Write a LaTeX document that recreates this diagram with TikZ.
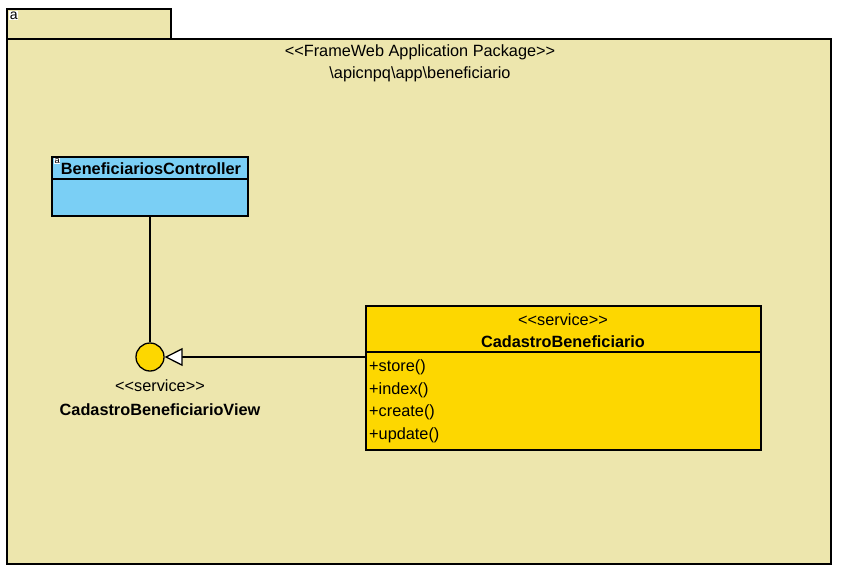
\documentclass[tikz,border=0pt]{standalone}
\usepackage{fontspec}
\setmainfont{Liberation Sans}
\usepackage{xcolor}
\usetikzlibrary{arrows.meta,positioning}
\definecolor{pkgfill}{HTML}{EDE6AD}
\definecolor{ctrlfill}{HTML}{7ACFF5}
\definecolor{svcfill}{HTML}{FDD700}
\newcommand{\stereotype}[1]{{<}{<}#1{>}{>}}
\begin{document}
\begin{tikzpicture}[x=0.03cm, y=-0.03cm,
    pkg/.style={draw, fill=pkgfill, line width=1.1pt},
    cls/.style={draw, line width=1.1pt},
    txt/.style={inner sep=0pt, font=\fontsize{13.9}{15}\selectfont},
    btxt/.style={txt, font=\fontsize{13.9}{15}\selectfont\bfseries},
    icon/.style={inner sep=0.6pt, fill=white, font=\fontsize{12}{12}\selectfont}]
    \useasboundingbox (0,0) rectangle (842,578);
    \fill [white] (0,0) rectangle (842,578);

    % package frame
    \draw [pkg] (7,9) rectangle (171,39);
    \draw [pkg] (7,39) rectangle (831,564);
    \node [icon, anchor=north west] (tabA) at (9,11) {a};
    \node [txt] (stereo) at (420,52) {\stereotype{FrameWeb Application Package}};
    \node [txt] (path) at (420,74) {\textbackslash apicnpq\textbackslash app\textbackslash beneficiario};

    % controller
    \coordinate (ctrlNW) at (52,157);
    \coordinate (ctrlSE) at (248,216);
    \draw [cls, fill=ctrlfill] (ctrlNW) rectangle (ctrlSE);
    \draw [cls] (52,179) -- (248,179);
    \node [btxt] (ctrl) at (151,169) {BeneficiariosController};
    \node [icon, anchor=north west, inner sep=0.3pt, font=\fontsize{8}{8}\selectfont] (ctrlA) at (54,158) {a};
    \coordinate (ctrlBot) at (150,216);

    % interface
    \node [circle, draw, line width=1.1pt, fill=svcfill, inner sep=0pt, minimum size=0.84cm] (view) at (150,357) {};
    \node [txt] (viewSt) at (160,386) {\stereotype{service}};
    \node [btxt] (viewName) at (160,410) {CadastroBeneficiarioView};
    \draw [line width=1.1pt] (ctrlBot) -- (view.north);

    % service class
    \draw [cls, fill=svcfill] (366,306) rectangle (761,450);
    \draw [cls] (366,352) -- (761,352);
    \node [txt] (svcSt) at (563,320) {\stereotype{service}};
    \node [btxt] (svc) at (563,342) {CadastroBeneficiario};
    \node [txt, anchor=west] (mStore) at (369,367) {+store()};
    \node [txt, anchor=west] (mIndex) at (369,390) {+index()};
    \node [txt, anchor=west] (mCreate) at (369,412) {+create()};
    \node [txt, anchor=west] (mUpdate) at (369,435) {+update()};
    \coordinate (svcW) at (366,357);

    % realization
    \draw [line width=1.1pt, -{Triangle[open, fill=white, length=0.54cm, width=0.54cm]}] (svcW) -- (view.east);
\end{tikzpicture}
\end{document}
